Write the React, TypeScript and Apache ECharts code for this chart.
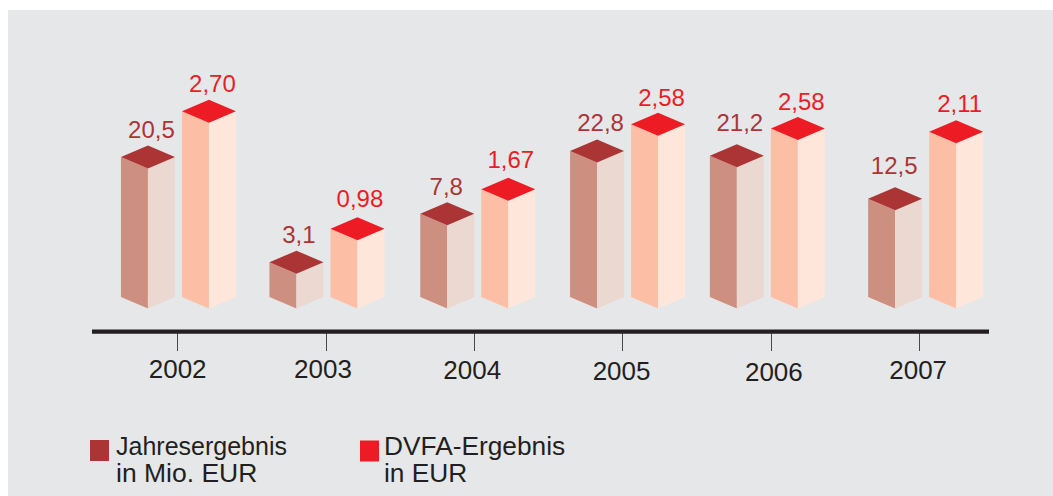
import React, { useEffect, useRef } from "react";
import * as echarts from "echarts";

// Data
const years = ["2002", "2003", "2004", "2005", "2006", "2007"];
const seriesNames = ["Jahresergebnis\nin Mio. EUR", "DVFA-Ergebnis\nin EUR"];
// Values as printed above the columns
const jahresergebnis = [20.5, 3.1, 7.8, 22.8, 21.2, 12.5];
const dvfaErgebnis = [2.7, 0.98, 1.67, 2.58, 2.58, 2.11];
// The source graphic's columns are not drawn to scale: these are the column heights
// as they read in the picture, in the units of each series' axis.
const jahresergebnisDrawn = [20.5, 5.1, 12.2, 21.4, 20.7, 14.4];
const dvfaErgebnisDrawn = [2.72, 1.0, 1.58, 2.53, 2.47, 2.42];

// Styling and layout constants
const FONT = '"Liberation Sans", Arial, sans-serif';
const GROUP_SHIFT = [0.8, 1, 3.5, 5, -3.5, 6.5];
const PAIR_SHIFT = 30.5;
const HALF_W = 27;
const HALF_H = 11.5;
const YEAR_DX = [0, -3, -2, -1, 3, -1];
const YEAR_DY = [0, 0, 1, 2, 3, 1];
const LABEL_DX = [
  [1, 0, -3.5, 1, 0.5, -3.5],
  [1, 0, 0, 1, 1, 1],
];
const LABEL_DY = [
  [0, 0, 1, 0, -5, -5],
  [0, -2, -2, 1, 1, 0],
];
const LEGEND_SIZES = [
  [25, 26.5],
  [26.3, 26.3],
];
const PALETTES = [
  { top: "#ab3535", left: "#cd9080", right: "#ead8d1" },
  { top: "#ed1c24", left: "#fcbfa6", right: "#fee6da" },
];

const fmt = (v: number, digits: number) => v.toFixed(digits).replace(".", ",");

const columnSeries = (
  index: number,
  drawn: number[],
  printed: number[],
  digits: number
) => {
  const pal = PALETTES[index];
  const side = index === 0 ? -PAIR_SHIFT : PAIR_SHIFT;
  return {
    type: "custom",
    name: seriesNames[index],
    yAxisIndex: index,
    clip: false,
    itemStyle: { color: pal.top },
    data: years.map((_, i) => [i, drawn[i], printed[i]]),
    encode: { x: 0, y: 1 },
    renderItem: (params: any, api: any) => {
      const i = api.value(0);
      const x = api.coord([i, 0])[0] + GROUP_SHIFT[i] + side;
      const base = api.coord([i, 0])[1];
      const top = api.coord([i, api.value(1)])[1];
      const poly = (points: number[][], fill: string) => ({
        type: "polygon",
        shape: { points },
        style: { fill },
      });
      return {
        type: "group",
        children: [
          poly(
            [
              [x - HALF_W, top],
              [x, top + HALF_H],
              [x, base + HALF_H],
              [x - HALF_W, base],
            ],
            pal.left
          ),
          poly(
            [
              [x + HALF_W, top],
              [x, top + HALF_H],
              [x, base + HALF_H],
              [x + HALF_W, base],
            ],
            pal.right
          ),
          poly(
            [
              [x - HALF_W, top],
              [x, top - HALF_H],
              [x + HALF_W, top],
              [x, top + HALF_H],
            ],
            pal.top
          ),
          {
            type: "text",
            x: x + 2.5 + LABEL_DX[index][i],
            y: top - 28 + LABEL_DY[index][i],
            style: {
              text: fmt(api.value(2), digits),
              fill: pal.top,
              fontSize: 24,
              fontFamily: FONT,
              align: "center",
              verticalAlign: "middle",
            },
          },
        ],
      };
    },
  };
};

const legendIcon =
  "path://M0 0h.01v.01H0Z M0 7H19V28H0Z M0 51.99h.01v.01H0Z";

const legendFor = (index: number, left: number, textGap: number) => {
  const line = (fontSize: number) => ({
    color: "#231f20",
    fontFamily: FONT,
    fontSize,
    lineHeight: 27,
    padding: [0, 0, 0, textGap],
  });
  return {
    left,
    top: 433,
    padding: 0,
    orient: "vertical",
    selectedMode: false,
    itemWidth: 19,
    itemHeight: 52,
    itemGap: 0,
    formatter: (name: string) => {
      const [a, b] = name.split("\n");
      return `{a|${a}}\n{b|${b}}`;
    },
    textStyle: {
      color: "#231f20",
      fontFamily: FONT,
      fontSize: LEGEND_SIZES[index][0],
      rich: { a: line(LEGEND_SIZES[index][0]), b: line(LEGEND_SIZES[index][1]) },
    },
    data: [
      {
        name: seriesNames[index],
        icon: legendIcon,
        itemStyle: { color: PALETTES[index].top },
      },
    ],
  };
};

const yearRich: Record<string, any> = {};
years.forEach((y, i) => {
  const dx = YEAR_DX[i];
  yearRich["y" + y] = {
    fontSize: 26,
    fontFamily: FONT,
    color: "#231f20",
    padding: [YEAR_DY[i], dx < 0 ? -dx * 2 : 0, 0, dx > 0 ? dx * 2 : 0],
  };
});

export default function App() {
  const ref = useRef<HTMLDivElement>(null);
  useEffect(() => {
    const chart = echarts.init(ref.current!, undefined, { renderer: "svg" });
    chart.setOption({
      animation: false,
      backgroundColor: "#ffffff",
      graphic: [
        {
          type: "rect",
          z: -10,
          shape: { x: 8, y: 10, width: 1045, height: 486 },
          style: { fill: "#e6e7e9" },
        },
        {
          type: "rect",
          z: 5,
          shape: { x: 92, y: 329.5, width: 897, height: 4.2 },
          style: { fill: "#231f20" },
        },
      ],
      legend: [legendFor(0, 90, 2), legendFor(1, 360, 0)],
      grid: { left: 103.5, width: 889.8, top: 24, height: 307.5 },
      xAxis: {
        type: "category",
        data: years,
        position: "bottom",
        axisLine: { show: false, onZero: false },
        axisTick: {
          show: true,
          alignWithLabel: true,
          length: 19.5,
          lineStyle: { color: "#4a4a4c", width: 1 },
        },
        axisLabel: {
          interval: 0,
          margin: 24,
          formatter: (v: string) => `{y${v}|${v}}`,
          rich: yearRich,
        },
      },
      // Column feet stand above the baseline, so each axis's zero lies above the grid's floor.
      yAxis: [
        { type: "value", min: -5.055, max: 40, show: false },
        { type: "value", min: -0.5055, max: 4, show: false },
      ],
      series: [
        columnSeries(0, jahresergebnisDrawn, jahresergebnis, 1),
        columnSeries(1, dvfaErgebnisDrawn, dvfaErgebnis, 2),
      ],
    });
    return () => chart.dispose();
  }, []);
  return (
    <div
      ref={ref}
      style={{ position: "fixed", left: 0, top: 0, width: 1053, height: 496 }}
    />
  );
}
